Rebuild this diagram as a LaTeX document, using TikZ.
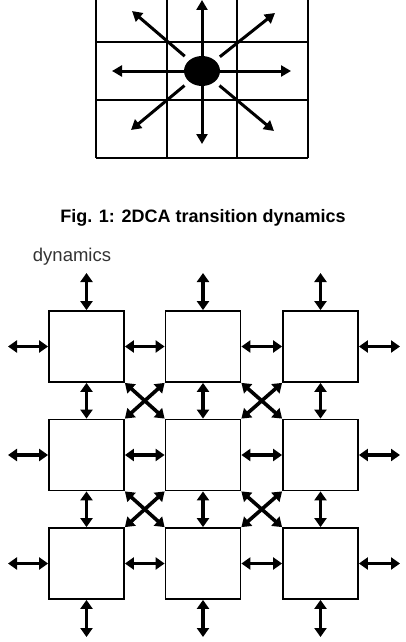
\documentclass[tikz,border=0pt]{standalone}
\usepackage{fontspec}
\setmainfont{Liberation Sans}
\usetikzlibrary{arrows.meta,shapes.geometric}

\begin{document}
\begin{tikzpicture}[x=1pt,y=-1pt,
    cell/.style={draw,line width=1.8pt,minimum width=75pt,minimum height=71pt,inner sep=0pt},
    link/.style={line width=3.6pt,{Triangle[length=9pt,width=12pt]}-{Triangle[length=9pt,width=12pt]}},
    ray/.style={line width=3pt,-{Triangle[length=10pt,width=11pt]}}]
                \useasboundingbox (0,0) rectangle (406,642);

                % neighbourhood grid
                \draw[line width=1.5pt] (96,0)--(96,158) (167,0)--(167,158) (237,0)--(237,158) (308,0)--(308,158);
                \draw[line width=1.5pt] (96,42)--(308,42) (96,100)--(308,100) (96,158)--(308,158);
                \node[fill,ellipse,minimum width=36pt,minimum height=30pt,inner sep=0pt] (dot) at (202,71) {};

                \coordinate (n) at (202,0);
                \coordinate (s) at (202,144);
                \coordinate (w) at (112,71);
                \coordinate (e) at (291,71);
                \coordinate (nw) at (132,11);
                \coordinate (ne) at (275,13);
                \coordinate (sw) at (131,130);
                \coordinate (se) at (274,131);

                \draw[ray] (dot)--(n);
                \draw[ray] (dot)--(s);
                \draw[ray] (dot)--(w);
                \draw[ray] (dot)--(e);
                \draw[ray,shorten <=6pt] (dot)--(nw);
                \draw[ray,shorten <=6pt] (dot)--(ne);
                \draw[ray,shorten <=6pt] (dot)--(sw);
                \draw[ray,shorten <=6pt] (dot)--(se);

                \node[font=\bfseries\fontsize{18}{20}\selectfont] (cap) at (203,218) {Fig. 1: 2DCA transition dynamics};

                % cell array
                \node[text=black!80,font=\fontsize{18.5}{20}\selectfont] (lbl) at (72,257) {dynamics};

                \node[cell] (c11) at (86.5,346.5) {};
                \node[cell] (c12) at (203,346.5) {};
                \node[cell] (c13) at (320.5,346.5) {};
                \node[cell] (c21) at (86.5,455) {};
                \node[cell] (c22) at (203,455) {};
                \node[cell] (c23) at (320.5,455) {};
                \node[cell] (c31) at (86.5,563.5) {};
                \node[cell] (c32) at (203,563.5) {};
                \node[cell] (c33) at (320.5,563.5) {};

                \coordinate (t1) at (86.5,273);
                \coordinate (t2) at (203,273);
                \coordinate (t3) at (320.5,273);
                \coordinate (b1) at (86.5,637);
                \coordinate (b2) at (203,637);
                \coordinate (b3) at (320.5,637);
                \coordinate (l1) at (8,346.5);
                \coordinate (l2) at (8,455);
                \coordinate (l3) at (8,563.5);
                \coordinate (r1) at (400,346.5);
                \coordinate (r2) at (400,455);
                \coordinate (r3) at (400,563.5);

                \draw[link] (t1)--(c11);
                \draw[link] (t2)--(c12);
                \draw[link] (t3)--(c13);
                \draw[link] (c31)--(b1);
                \draw[link] (c32)--(b2);
                \draw[link] (c33)--(b3);
                \draw[link] (l1)--(c11);
                \draw[link] (l2)--(c21);
                \draw[link] (l3)--(c31);
                \draw[link] (c13)--(r1);
                \draw[link] (c23)--(r2);
                \draw[link] (c33)--(r3);

                \draw[link] (c11)--(c12);
                \draw[link] (c12)--(c13);
                \draw[link] (c21)--(c22);
                \draw[link] (c22)--(c23);
                \draw[link] (c31)--(c32);
                \draw[link] (c32)--(c33);
                \draw[link] (c11)--(c21);
                \draw[link] (c21)--(c31);
                \draw[link] (c12)--(c22);
                \draw[link] (c22)--(c32);
                \draw[link] (c13)--(c23);
                \draw[link] (c23)--(c33);

                \draw[link] (c11.south east)--(c22.north west);
                \draw[link] (c12.south west)--(c21.north east);
                \draw[link] (c12.south east)--(c23.north west);
                \draw[link] (c13.south west)--(c22.north east);
                \draw[link] (c21.south east)--(c32.north west);
                \draw[link] (c22.south west)--(c31.north east);
                \draw[link] (c22.south east)--(c33.north west);
                \draw[link] (c23.south west)--(c32.north east);
            \end{tikzpicture}
\end{document}
